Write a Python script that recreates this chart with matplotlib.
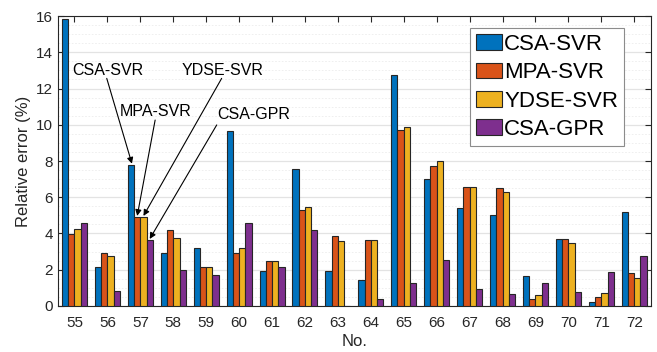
import numpy as np
import matplotlib
matplotlib.use("Agg")
import matplotlib.pyplot as plt
from matplotlib.ticker import MultipleLocator

plt.rcParams['font.family'] = ['Liberation Sans', 'DejaVu Sans']

samples = list(range(55, 73))
series_names = ["CSA-SVR", "MPA-SVR", "YDSE-SVR", "CSA-GPR"]
csa_svr = [15.83, 2.15, 7.80, 2.95, 3.22, 9.65, 1.95, 7.54, 1.91, 1.45, 12.73, 6.99, 5.39, 5.00, 1.66, 3.70, 0.24, 5.17]
mpa_svr = [3.95, 2.95, 4.92, 4.17, 2.15, 2.95, 2.47, 5.30, 3.85, 3.64, 9.69, 7.74, 6.55, 6.51, 0.40, 3.70, 0.48, 1.82]
ydse_svr = [4.27, 2.75, 4.92, 3.77, 2.15, 3.22, 2.47, 5.46, 3.57, 3.64, 9.88, 7.98, 6.55, 6.31, 0.62, 3.46, 0.70, 1.53]
csa_gpr = [4.57, 0.80, 3.65, 1.97, 1.72, 4.57, 2.13, 4.19, 0.02, 0.37, 1.25, 2.52, 0.96, 0.66, 1.25, 0.75, 1.86, 2.74]
colors = ["#0072BD", "#D95319", "#EDB120", "#7E2F8E"]

fig = plt.figure(figsize=(6.57, 3.52), dpi=100)
ax = fig.add_axes([0.0883, 0.1307, 0.9021, 0.8238])

x = np.array(samples, dtype=float)
bw = 0.19
offsets = [-1.5 * bw, -0.5 * bw, 0.5 * bw, 1.5 * bw]
all_series = [csa_svr, mpa_svr, ydse_svr, csa_gpr]
for vals, off, col, name in zip(all_series, offsets, colors, series_names):
    ax.bar(x + off, vals, width=bw, color=col, edgecolor="#262626",
           linewidth=0.8, label=name, zorder=3)

ax.set_xlim(54.5, 72.5)
ax.set_ylim(0, 16)
ax.set_xticks(samples)
ax.yaxis.set_major_locator(MultipleLocator(2))
ax.yaxis.set_minor_locator(MultipleLocator(0.5))
ax.grid(axis='y', which='major', color="#e3e3e3", linewidth=0.9, zorder=0)
ax.grid(axis='y', which='minor', color="#ececec", linewidth=0.6, linestyle=(0, (2, 2)), zorder=0)
ax.set_axisbelow(True)
ax.tick_params(axis='both', which='major', direction='in', top=True, right=True,
               labelsize=11, length=4, color="#262626", labelcolor="#262626")
ax.tick_params(axis='x', which='major', pad=7)
ax.tick_params(axis='y', which='minor', left=False, right=False)
for s in ax.spines.values():
    s.set_color("#262626")
    s.set_linewidth(0.8)
ax.set_xlabel("No.", fontsize=12, color="#262626", labelpad=3)
ax.set_ylabel("Relative error (%)", fontsize=12, color="#262626", labelpad=4)

leg = ax.legend(loc='upper right', bbox_to_anchor=(0.9555, 0.9597), borderaxespad=0,
                fontsize=16, handlelength=1.15, handleheight=0.7, handletextpad=0.1,
                labelspacing=0.33, borderpad=0.28, fancybox=False, framealpha=1,
                edgecolor="#8c8c8c")
leg.get_frame().set_linewidth(0.8)

ann = [
    ("CSA-SVR", 54.92, 13.0, 55.98, 12.56, 0, 0),
    ("MPA-SVR", 56.36, 10.72, 57.45, 10.26, 1, 1),
    ("YDSE-SVR", 58.26, 13.0, 59.47, 12.56, 2, 2),
    ("CSA-GPR", 59.35, 10.54, 59.32, 9.99, 3, 3),
]
for text, tx, ty, sx, sy, si, oi in ann:
    ax.text(tx, ty, text, fontsize=11.5, va='center', ha='left', color='black')
    tgt_x = 57 + offsets[oi] + (0.03 if oi == 0 else 0.0)
    tgt_y = all_series[si][2] + 0.05
    ax.annotate("", xy=(tgt_x, tgt_y), xytext=(sx, sy),
                arrowprops=dict(arrowstyle="-|>", color="black", lw=0.8,
                                mutation_scale=9, shrinkA=0, shrinkB=0))

fig.savefig("out.png", dpi=100)
